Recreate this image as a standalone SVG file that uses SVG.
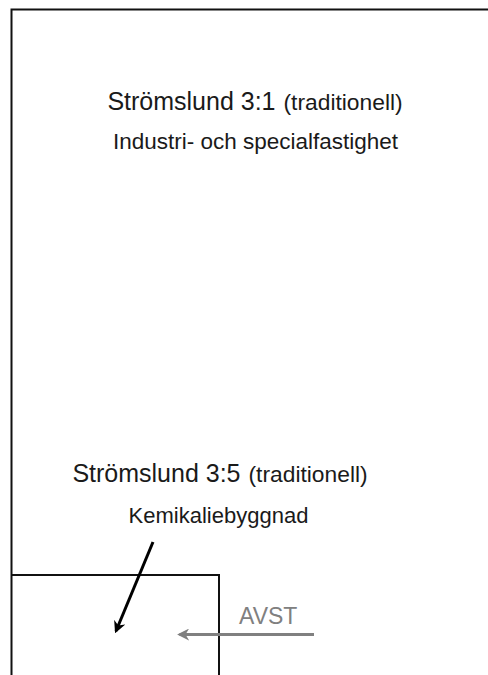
<svg xmlns="http://www.w3.org/2000/svg" width="488" height="675" viewBox="0 0 488 675">
  <style>
    .bound { fill: none; stroke: #111; stroke-width: 2; }
    .txt { font-family: "Liberation Sans", Arial, sans-serif; fill: #1a1a1a; text-anchor: middle; }
    .big { font-size: 25px; }
    .mid { font-size: 22.8px; }
    .sub { font-size: 22.5px; }
    .kem { font-size: 22px; }
    .avst { font-family: "Liberation Sans", Arial, sans-serif; font-size: 23px; fill: #808080; }
    .lead { stroke: #000; stroke-width: 3; fill: none; }
    .grey { stroke: #808080; stroke-width: 3; fill: none; }
  </style>
  <defs>
    <marker id="headBlack" viewBox="0 0 10 10" refX="8" refY="5" markerWidth="4" markerHeight="4" orient="auto" markerUnits="strokeWidth">
      <path d="M0 0 L10 5 L0 10 L3 5 Z" fill="#000"/>
    </marker>
    <marker id="headGrey" viewBox="0 0 10 10" refX="8" refY="5" markerWidth="4" markerHeight="4" orient="auto" markerUnits="strokeWidth">
      <path d="M0 0 L10 5 L0 10 L3 5 Z" fill="#808080"/>
    </marker>
  </defs>
  <rect width="488" height="675" fill="#fff"/>

  <!-- parcel 3:1 -->
  <g id="parcel-3-1">
    <path class="bound" d="M11.5 690 V9.5 H500"/>
    <text class="txt" x="255" y="110"><tspan class="big">Strömslund 3:1</tspan><tspan class="mid" dx="8">(traditionell)</tspan></text>
    <text class="txt sub" x="255.5" y="149">Industri- och specialfastighet</text>
  </g>

  <!-- parcel 3:5 -->
  <g id="parcel-3-5">
    <path class="bound" d="M11.5 575 H219 V690"/>
    <text class="txt" x="220" y="482"><tspan class="big">Strömslund 3:5</tspan><tspan class="mid" dx="8">(traditionell)</tspan></text>
    <text class="txt kem" x="218.5" y="523">Kemikaliebyggnad</text>
  </g>

  <!-- AVST label -->
  <g id="avst">
    <text class="avst" x="239" y="624">AVST</text>
  </g>

  <!-- connectors -->
  <g id="connectors">
    <line class="lead" x1="153" y1="542" x2="116" y2="631" marker-end="url(#headBlack)"/>
    <line class="grey" x1="314" y1="634.5" x2="179.5" y2="634.5" marker-end="url(#headGrey)"/>
  </g>
</svg>
